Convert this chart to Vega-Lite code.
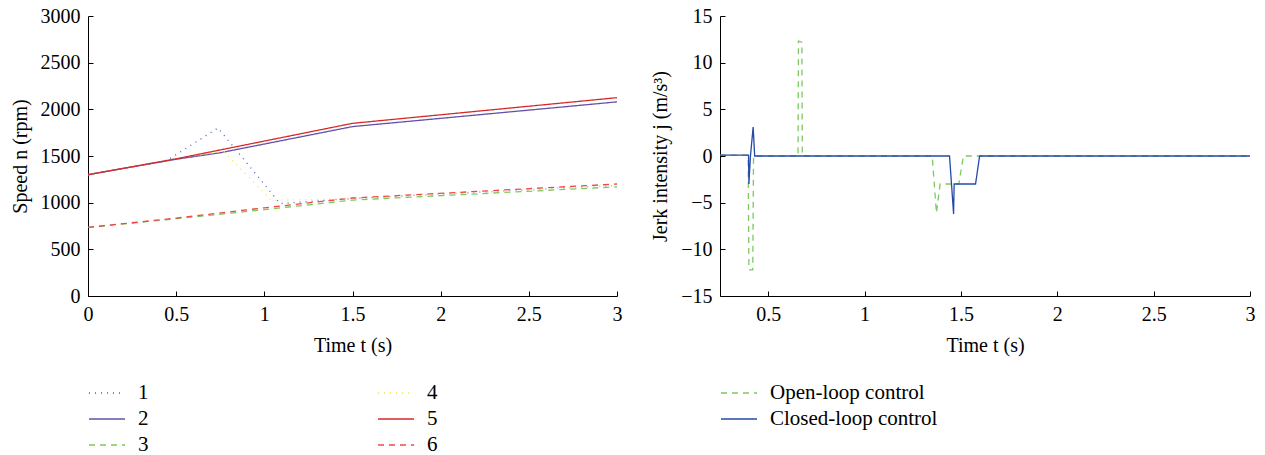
{
  "$schema": "https://vega.github.io/schema/vega-lite/v6.json",
  "background": "white",
  "padding": {"left": 10, "top": 6, "right": 5, "bottom": 0},
  "config": {
    "font": "Liberation Serif",
    "view": {"stroke": null},
    "axis": {"domainColor": "black", "tickColor": "black", "labelColor": "black", "titleColor": "black", "labelFont": "Liberation Serif", "titleFont": "Liberation Serif", "labelFontSize": 20, "titleFontSize": 20, "titleFontWeight": "normal", "grid": false, "tickSize": -5, "labelPadding": 13, "labelFlush": false, "labelOverlap": false, "domainWidth": 1, "tickWidth": 1},
    "legend": {"labelFont": "Liberation Serif", "labelFontSize": 21, "labelLimit": 400, "labelColor": "black", "symbolType": "M-1.8,0L1.8,0", "symbolSize": 400, "symbolStrokeWidth": 1.3, "symbolFillColor": "transparent", "labelOffset": 20, "rowPadding": 5, "padding": 0, "title": null},
    "concat": {"spacing": 103}
  },
  "bounds": "flush",
  "datasets": {
    "speed": [
      {"t": 0, "n": 1300, "series": "1"}, {"t": 0.45, "n": 1455, "series": "1"}, {"t": 0.737, "n": 1800, "series": "1"}, {"t": 1.09, "n": 990, "series": "1"}, {"t": 1.5, "n": 1045, "series": "1"}, {"t": 3, "n": 1185, "series": "1"},
      {"t": 0, "n": 1300, "series": "2"}, {"t": 0.5, "n": 1465, "series": "2"}, {"t": 0.75, "n": 1535, "series": "2"}, {"t": 1.5, "n": 1815, "series": "2"}, {"t": 3, "n": 2080, "series": "2"},
      {"t": 0, "n": 735, "series": "3"}, {"t": 0.5, "n": 828, "series": "3"}, {"t": 1, "n": 925, "series": "3"}, {"t": 1.5, "n": 1028, "series": "3"}, {"t": 3, "n": 1170, "series": "3"},
      {"t": 0, "n": 1300, "series": "4"}, {"t": 0.5, "n": 1470, "series": "4"}, {"t": 0.77, "n": 1550, "series": "4"}, {"t": 1.04, "n": 1025, "series": "4"}, {"t": 1.3, "n": 1035, "series": "4"}, {"t": 1.5, "n": 1045, "series": "4"}, {"t": 3, "n": 1185, "series": "4"},
      {"t": 0, "n": 1300, "series": "5"}, {"t": 0.5, "n": 1470, "series": "5"}, {"t": 1.5, "n": 1850, "series": "5"}, {"t": 3, "n": 2125, "series": "5"},
      {"t": 0, "n": 735, "series": "6"}, {"t": 0.5, "n": 835, "series": "6"}, {"t": 1, "n": 945, "series": "6"}, {"t": 1.5, "n": 1050, "series": "6"}, {"t": 3, "n": 1200, "series": "6"}
    ],
    "jerk": [
      {"t": 0.25, "j": 0.1, "control": "Open-loop control"}, {"t": 0.396, "j": 0.1, "control": "Open-loop control"}, {"t": 0.4, "j": -12.2, "control": "Open-loop control"}, {"t": 0.42, "j": -12.2, "control": "Open-loop control"}, {"t": 0.424, "j": 0, "control": "Open-loop control"}, {"t": 0.655, "j": 0, "control": "Open-loop control"}, {"t": 0.657, "j": 12.3, "control": "Open-loop control"}, {"t": 0.675, "j": 12.2, "control": "Open-loop control"}, {"t": 0.677, "j": 0, "control": "Open-loop control"}, {"t": 1.351, "j": 0, "control": "Open-loop control"}, {"t": 1.373, "j": -6.1, "control": "Open-loop control"}, {"t": 1.392, "j": -3, "control": "Open-loop control"}, {"t": 1.489, "j": -3, "control": "Open-loop control"}, {"t": 1.513, "j": 0, "control": "Open-loop control"}, {"t": 3, "j": 0, "control": "Open-loop control"},
      {"t": 0.25, "j": 0.1, "control": "Closed-loop control"}, {"t": 0.398, "j": 0.1, "control": "Closed-loop control"}, {"t": 0.4, "j": -3.0, "control": "Closed-loop control"}, {"t": 0.408, "j": 0, "control": "Closed-loop control"}, {"t": 0.422, "j": 3.1, "control": "Closed-loop control"}, {"t": 0.43, "j": 0, "control": "Closed-loop control"}, {"t": 1.441, "j": 0, "control": "Closed-loop control"}, {"t": 1.462, "j": -6.2, "control": "Closed-loop control"}, {"t": 1.465, "j": -3, "control": "Closed-loop control"}, {"t": 1.576, "j": -3, "control": "Closed-loop control"}, {"t": 1.597, "j": 0, "control": "Closed-loop control"}, {"t": 3, "j": 0, "control": "Closed-loop control"}
    ]
  },
  "hconcat": [
    {
      "width": 529,
      "height": 280,
      "data": {"name": "speed"},
      "mark": {"type": "line", "strokeWidth": 1.3, "clip": true},
      "encoding": {
        "x": {"field": "t", "type": "quantitative", "scale": {"domain": [0, 3], "nice": false, "zero": false}, "axis": {"values": [0, 0.5, 1, 1.5, 2, 2.5, 3], "format": "~g", "title": "Time t (s)", "titlePadding": 11}},
        "y": {"field": "n", "type": "quantitative", "scale": {"domain": [0, 3000], "nice": false}, "axis": {"values": [0, 500, 1000, 1500, 2000, 2500, 3000], "format": "d", "title": "Speed n (rpm)", "titlePadding": 10}},
        "color": {"field": "series", "type": "nominal", "scale": {"domain": ["1", "2", "3", "4", "5", "6"], "range": ["#4062c8", "#6450a8", "#78cc58", "#f2e83a", "#d62a2a", "#f04848"]}, "legend": {"orient": "none", "legendX": 8, "legendY": 366, "columns": 2, "columnPadding": 226}},
        "strokeDash": {"field": "series", "type": "nominal", "scale": {"domain": ["1", "2", "3", "4", "5", "6"], "range": [[1, 5], [1, 0], [6, 5], [1, 5], [1, 0], [6, 5]]}, "legend": {"orient": "none", "legendX": 8, "legendY": 366, "columns": 2, "columnPadding": 226}},
        "order": {"field": "t", "type": "quantitative"}
      }
    },
    {
      "width": 530,
      "height": 280,
      "data": {"name": "jerk"},
      "mark": {"type": "line", "strokeWidth": 1.3, "clip": true},
      "encoding": {
        "x": {"field": "t", "type": "quantitative", "scale": {"domain": [0.25, 3], "nice": false, "zero": false}, "axis": {"values": [0.5, 1, 1.5, 2, 2.5, 3], "format": "~g", "title": "Time t (s)", "titlePadding": 11}},
        "y": {"field": "j", "type": "quantitative", "scale": {"domain": [-15, 15], "nice": false}, "axis": {"values": [-15, -10, -5, 0, 5, 10, 15], "title": "Jerk intensity j (m/s³)", "titlePadding": 10}},
        "color": {"field": "control", "type": "nominal", "scale": {"domain": ["Open-loop control", "Closed-loop control"], "range": ["#7ec862", "#2449a8"]}, "legend": {"orient": "none", "legendX": 8, "legendY": 366}},
        "strokeDash": {"field": "control", "type": "nominal", "scale": {"domain": ["Open-loop control", "Closed-loop control"], "range": [[6, 5], [1, 0]]}, "legend": {"orient": "none", "legendX": 8, "legendY": 366}},
        "order": {"field": "t", "type": "quantitative"}
      }
    }
  ],
  "resolve": {"scale": {"color": "independent", "strokeDash": "independent"}, "legend": {"color": "independent", "strokeDash": "independent"}}
}
